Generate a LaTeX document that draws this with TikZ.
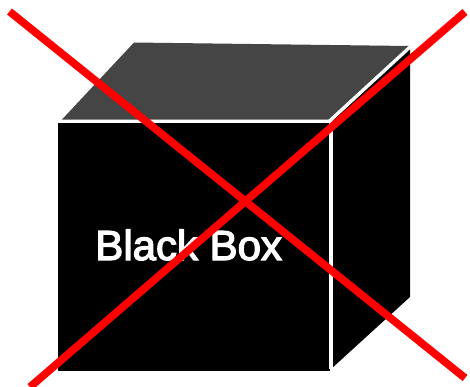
\documentclass[tikz,border=0pt]{standalone}
\usepackage{fontspec}
\setmainfont{Liberation Sans}[FakeBold=3]
\tikzset{
  box face/.style={fill=black},
  box lid/.style={fill=black!73},
  box edge/.style={draw=white, line width=1.9pt},
  cross line/.style={draw=red, line width=4.4pt},
}
\begin{document}
\begin{tikzpicture}[x=0.02cm, y=-0.02cm, every node/.style={font=\fontsize{23.9}{24}\selectfont}]
  \useasboundingbox (0,0) rectangle (470,386);
  \coordinate (ftl) at (57.5,123);  \coordinate (ftr) at (330,123);
  \coordinate (fbl) at (57.5,371);  \coordinate (fbr) at (330,371);
  \coordinate (ltl) at (134,42.5);  \coordinate (ltr) at (409,46);
  \coordinate (rtr) at (410,48);    \coordinate (rbr) at (410,297);
  \coordinate (rbl) at (331,369);   \coordinate (rtl) at (331,122);
  \fill[box lid] (62,119.5) -- (ltl) -- (ltr) -- (329,119.5) -- cycle;
  \fill[box face] (rtl) -- (rtr) -- (rbr) -- (rbl) -- cycle;
  \fill[box face] (ftl) -- (ftr) -- (fbr) -- (fbl) -- cycle;
  \draw[box edge] (58,121.5) -- (330,121.5);
  \draw[box edge] (331,121) -- (rbl);
  \draw[box edge] (329,121.5) -- (409.5,47.5);
  \node[text=white, anchor=base west, inner sep=0pt] (title) at (95,260) {Black Box};
  \coordinate (c1) at (9.5,11.5);  \coordinate (c2) at (465,378);
  \coordinate (c3) at (465,12);    \coordinate (c4) at (30,387);
  \draw[cross line] (c1) -- (c2);
  \draw[cross line] (c3) -- (c4);
\end{tikzpicture}
\end{document}
